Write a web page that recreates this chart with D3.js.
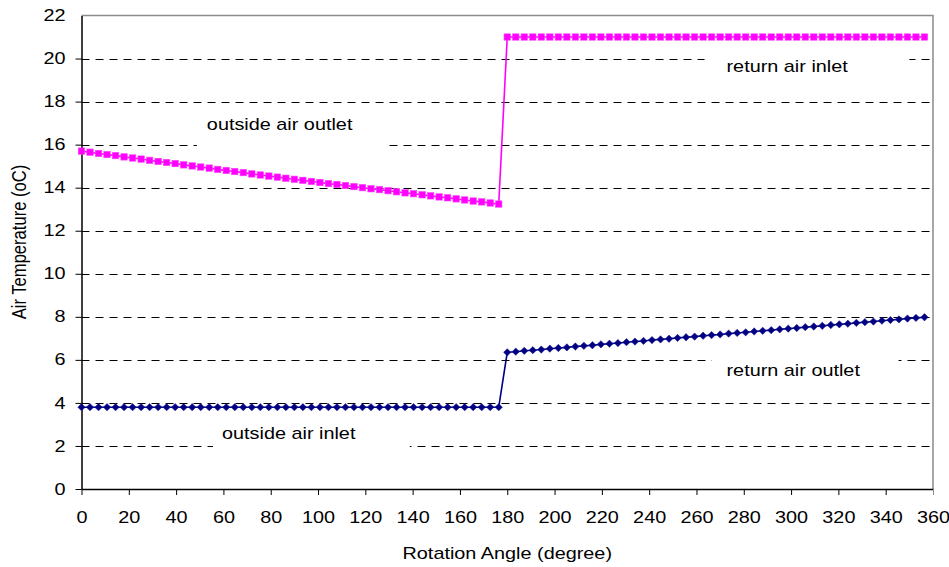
<!DOCTYPE html>
<html>
<head>
<meta charset="utf-8">
<script src="https://cdn.jsdelivr.net/npm/d3@7/dist/d3.min.js"></script>
<style>
  html, body { margin: 0; padding: 0; background: #fff; }
  svg { display: block; font-family: "Liberation Sans", Arial, sans-serif; }
</style>
</head>
<body>
<svg id="chart" width="949" height="567"></svg>
<script>
// Rotation angle of each sample (degrees)
const angles = [
  0, 3.6, 7.2, 10.8, 14.4, 18, 21.6, 25.2, 28.8, 32.4,
  36, 39.6, 43.2, 46.8, 50.4, 54, 57.6, 61.2, 64.8, 68.4,
  72, 75.6, 79.2, 82.8, 86.4, 90, 93.6, 97.2, 100.8, 104.4,
  108, 111.6, 115.2, 118.8, 122.4, 126, 129.6, 133.2, 136.8, 140.4,
  144, 147.6, 151.2, 154.8, 158.4, 162, 165.6, 169.2, 172.8, 176.4,
  180, 183.6, 187.2, 190.8, 194.4, 198, 201.6, 205.2, 208.8, 212.4,
  216, 219.6, 223.2, 226.8, 230.4, 234, 237.6, 241.2, 244.8, 248.4,
  252, 255.6, 259.2, 262.8, 266.4, 270, 273.6, 277.2, 280.8, 284.4,
  288, 291.6, 295.2, 298.8, 302.4, 306, 309.6, 313.2, 316.8, 320.4,
  324, 327.6, 331.2, 334.8, 338.4, 342, 345.6, 349.2, 352.8, 356.4
];

// Outside air outlet (0-176.4) then return air inlet (180-356.4), oC
const hotSide = [
  15.70, 15.65, 15.59, 15.54, 15.49, 15.43, 15.38, 15.33, 15.27, 15.22,
  15.17, 15.12, 15.06, 15.01, 14.96, 14.91, 14.85, 14.80, 14.75, 14.70,
  14.64, 14.59, 14.54, 14.49, 14.44, 14.39, 14.34, 14.29, 14.24, 14.19,
  14.15, 14.10, 14.05, 14.00, 13.95, 13.91, 13.86, 13.81, 13.76, 13.72,
  13.67, 13.62, 13.57, 13.53, 13.48, 13.43, 13.38, 13.34, 13.29, 13.24,
  21.0, 21.0, 21.0, 21.0, 21.0, 21.0, 21.0, 21.0, 21.0, 21.0,
  21.0, 21.0, 21.0, 21.0, 21.0, 21.0, 21.0, 21.0, 21.0, 21.0,
  21.0, 21.0, 21.0, 21.0, 21.0, 21.0, 21.0, 21.0, 21.0, 21.0,
  21.0, 21.0, 21.0, 21.0, 21.0, 21.0, 21.0, 21.0, 21.0, 21.0,
  21.0, 21.0, 21.0, 21.0, 21.0, 21.0, 21.0, 21.0, 21.0, 21.0
];

// Outside air inlet (0-176.4) then return air outlet (180-356.4), oC
const coldSide = [
  3.8, 3.8, 3.8, 3.8, 3.8, 3.8, 3.8, 3.8, 3.8, 3.8,
  3.8, 3.8, 3.8, 3.8, 3.8, 3.8, 3.8, 3.8, 3.8, 3.8,
  3.8, 3.8, 3.8, 3.8, 3.8, 3.8, 3.8, 3.8, 3.8, 3.8,
  3.8, 3.8, 3.8, 3.8, 3.8, 3.8, 3.8, 3.8, 3.8, 3.8,
  3.8, 3.8, 3.8, 3.8, 3.8, 3.8, 3.8, 3.8, 3.8, 3.8,
  6.35, 6.38, 6.42, 6.45, 6.48, 6.52, 6.55, 6.58, 6.62, 6.65,
  6.68, 6.72, 6.75, 6.78, 6.82, 6.85, 6.88, 6.92, 6.95, 6.98,
  7.02, 7.05, 7.08, 7.12, 7.15, 7.18, 7.22, 7.25, 7.28, 7.32,
  7.35, 7.38, 7.42, 7.45, 7.48, 7.52, 7.55, 7.58, 7.62, 7.65,
  7.68, 7.72, 7.75, 7.78, 7.82, 7.85, 7.88, 7.92, 7.95, 7.98
];

const xTicks = [0, 20, 40, 60, 80, 100, 120, 140, 160, 180, 200, 220, 240, 260, 280, 300, 320, 340, 360];
const yTicks = [0, 2, 4, 6, 8, 10, 12, 14, 16, 18, 20, 22];

// Annotations: text, baseline anchor (angle, temperature), and the white box behind each
const labelText = ["outside air outlet", "return air inlet", "return air outlet", "outside air inlet"];
const labelAt = [[53.0, 16.66], [272.7, 19.38], [272.7, 5.25], [59.4, 2.32]];
const labelBox = [[48.8, 17.85, 129.5, 15.75], [263.4, 20.63, 350, 18.54], [266.4, 6.55, 345.4, 4.37], [55.6, 3.67, 138.8, 1.35]];

const svg = d3.select("#chart");
const plotLeft = 81.5, plotRight = 933, plotTop = 15.5, plotBottom = 489;
const stretch = 1.24; // horizontal widening applied to upright text

const x = d3.scaleLinear().domain([0, 360]).range([plotLeft, plotRight]);
const y = d3.scaleLinear().domain([0, 22]).range([plotBottom, plotTop]);

// Dashed horizontal gridlines
svg.append("g").selectAll("line")
  .data(yTicks.filter(d => d > 0 && d < 22))
  .join("line")
  .attr("x1", plotLeft).attr("x2", plotRight)
  .attr("y1", d => Math.round(y(d)) + 0.5).attr("y2", d => Math.round(y(d)) + 0.5)
  .attr("stroke", "#000").attr("stroke-width", 1)
  .attr("stroke-dasharray", "8,6");

// Top and right frame
svg.append("path")
  .attr("d", `M${plotLeft},${plotTop}H${plotRight}V${plotBottom}`)
  .attr("fill", "none").attr("stroke", "#8c8c8c").attr("stroke-width", 1.5);

// White boxes behind annotation text
svg.append("g").selectAll("rect")
  .data(labelBox)
  .join("rect")
  .attr("x", d => x(d[0])).attr("y", d => y(d[1]))
  .attr("width", d => x(d[2]) - x(d[0])).attr("height", d => y(d[3]) - y(d[1]))
  .attr("fill", "#fff");

// Axes
const yAxis = svg.append("g")
  .attr("transform", `translate(${plotLeft},0)`)
  .call(d3.axisLeft(y).tickValues(yTicks).tickSize(6).tickPadding(10).tickSizeOuter(0));
const xAxis = svg.append("g")
  .attr("transform", `translate(0,${plotBottom})`)
  .call(d3.axisBottom(x).tickValues(xTicks).tickSize(6).tickPadding(10).tickSizeOuter(0));

[yAxis, xAxis].forEach(g => {
  g.select(".domain").attr("stroke", "#000").attr("stroke-width", 1.5);
  g.selectAll(".tick line").attr("stroke", "#000").attr("stroke-width", 1);
  g.selectAll(".tick text")
    .attr("fill", "#000")
    .style("font-size", "16px")
    .style("font-family", "'Liberation Sans', Arial, sans-serif");
});
yAxis.selectAll(".tick text").attr("transform", `scale(${stretch},1)`).attr("x", -16 / stretch);
xAxis.selectAll(".tick text")
  .attr("transform", `scale(${stretch},1)`)
  .attr("x", 0).attr("y", 23).attr("dy", "0.71em");
yAxis.selectAll(".tick").filter(d => d === 22).select("line").remove();
xAxis.selectAll(".tick").filter(d => d === 360).select("line").attr("stroke", "#8c8c8c");

// Axis titles
svg.append("g")
  .attr("transform", `translate(${(plotLeft + plotRight) / 2},559) scale(${stretch},1)`)
  .append("text").attr("text-anchor", "middle")
  .style("font-size", "16px").attr("fill", "#000")
  .text("Rotation Angle (degree)");
svg.append("g")
  .attr("transform", `translate(26,242) rotate(-90) scale(1,${stretch})`)
  .append("text").attr("text-anchor", "middle")
  .style("font-size", "16.6px").attr("fill", "#000")
  .text("Air Temperature (oC)");

// Series lines
const line = d3.line().x((d, i) => x(angles[i])).y(d => y(d));
svg.append("path").datum(hotSide)
  .attr("d", line).attr("fill", "none")
  .attr("stroke", "#ff00ff").attr("stroke-width", 1.6);
svg.append("path").datum(coldSide)
  .attr("d", line).attr("fill", "none")
  .attr("stroke", "#000080").attr("stroke-width", 1.6);

// Markers: squares for the warm side, diamonds for the cold side
svg.append("g").selectAll("rect")
  .data(hotSide)
  .join("rect")
  .attr("x", (d, i) => x(angles[i]) - 3.2).attr("y", d => y(d) - 3.2)
  .attr("width", 6.4).attr("height", 6.4)
  .attr("fill", "#ff00ff").attr("stroke", "#ff40ff").attr("stroke-width", 0.6);
const diamond = d3.symbol().type(d3.symbolDiamond2).size(34);
svg.append("g").selectAll("path")
  .data(coldSide)
  .join("path")
  .attr("d", diamond)
  .attr("transform", (d, i) => `translate(${x(angles[i])},${y(d)})`)
  .attr("fill", "#000080").attr("stroke", "#1a1a99").attr("stroke-width", 0.6);

// Annotation text
svg.append("g").selectAll("g")
  .data(labelText)
  .join("g")
  .attr("transform", (d, i) => `translate(${x(labelAt[i][0])},${y(labelAt[i][1])}) scale(${stretch},1)`)
  .append("text")
  .style("font-size", "16px").attr("fill", "#000")
  .text(d => d);
</script>
</body>
</html>
